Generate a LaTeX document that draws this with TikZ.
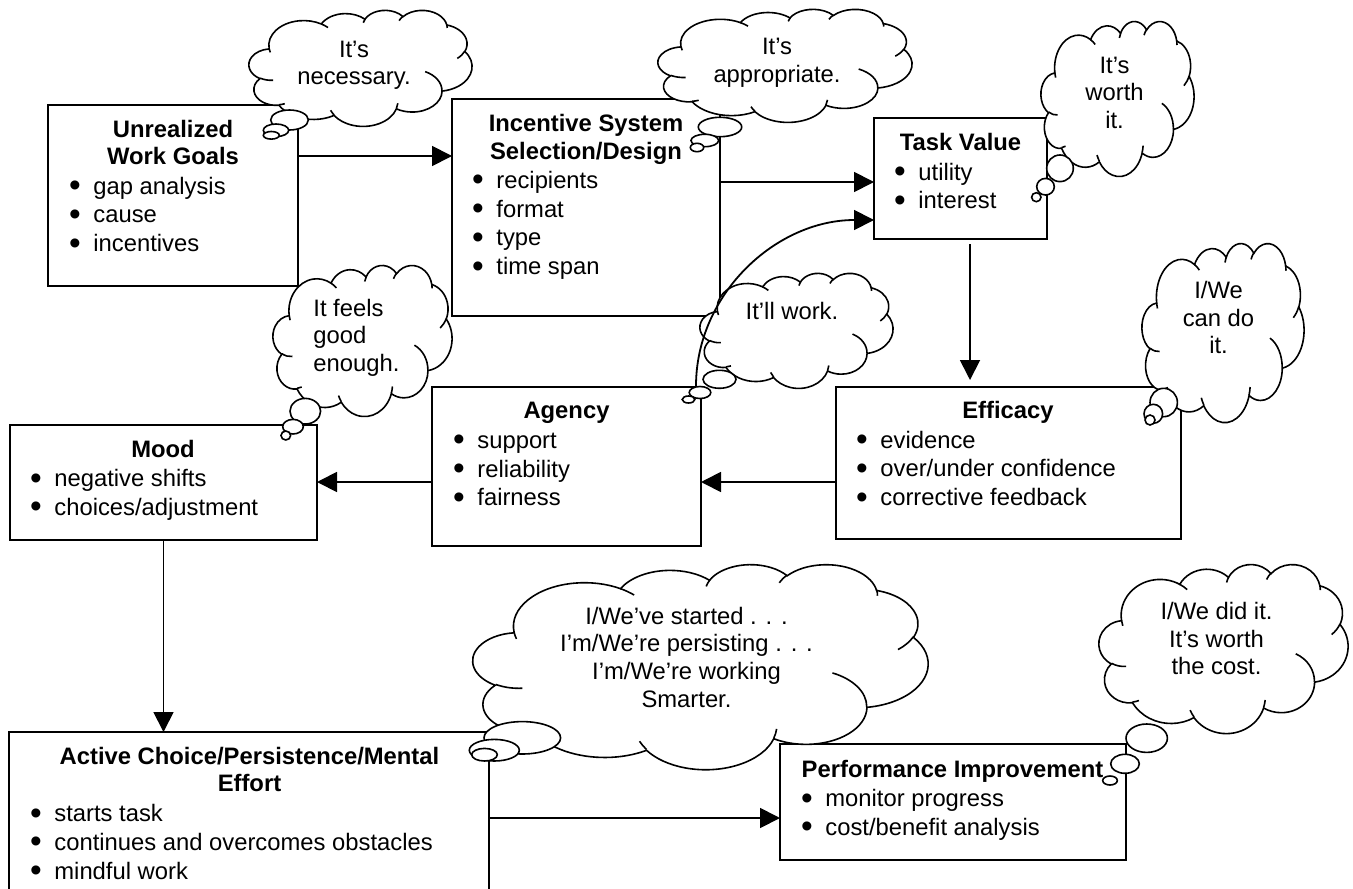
\documentclass[tikz,border=0pt]{standalone}
\usepackage{fontspec}
\setmainfont{Liberation Sans}
\usepackage{graphicx}
\usetikzlibrary{arrows.meta}

\newcommand\bul{\makebox[0pt][r]{\raisebox{-1.2pt}{\scalebox{1.4}{\textbullet}}\hspace{6.3pt}}}
\newcommand\tlines[2]{\begin{tabular}[t]{@{}#1@{}}#2\end{tabular}}
\newcommand\carc[4]{arc[x radius=#1,y radius=#2,start angle={cpa(#3,#1,#2)},delta angle={cpd(#3,#4,#1,#2)}]}
\newcommand\officecloud[4]{%
\begin{scope}[shift={(#1,#2)},xscale=#3/43.2,yscale=#4/43.2]
\path[cloudbody] (3.900,14.370)
 \carc{6.753}{9.190}{-190.4875}{123.7805}
 \carc{5.333}{7.267}{-144.1024}{89.9452}
 \carc{4.365}{5.945}{-145.8079}{99.7230}
 \carc{4.857}{6.595}{-130.9861}{117.2417}
 \carc{5.333}{7.273}{-78.7089}{109.0269}
 \carc{6.775}{9.220}{-46.2673}{130.2690}
 \carc{5.785}{7.867}{0.6250}{114.0333}
 \carc{6.752}{9.215}{22.4516}{115.1726}
 \carc{7.720}{10.543}{66.2426}{75.7110}
 \carc{4.360}{5.918}{-274.9421}{146.7356}
 \carc{4.345}{5.945}{-246.8285}{152.5189}
 -- cycle;
\path[cloudline] (4.693,26.177) \carc{4.345}{5.945}{86.7420}{26.4295}
 (6.928,34.899) \carc{4.360}{5.918}{73.6105}{11.4475}
 (16.478,39.090) \carc{6.752}{9.215}{137.6242}{14.0811}
 (28.827,34.751) \carc{6.752}{9.215}{6.4533}{15.9984}
 (34.129,22.954) \carc{5.785}{7.867}{-70.2924}{70.9174}
 (41.798,15.354) \carc{5.333}{7.273}{30.3180}{27.7515}
 (38.324,5.426) \carc{4.857}{6.595}{-13.7443}{14.8589}
 (29.078,3.952) \carc{4.857}{6.595}{-149.1815}{18.1954}
 (22.141,4.720) \carc{4.365}{5.945}{-163.4943}{17.6864}
 (14.000,5.192) \carc{6.753}{9.190}{-66.7070}{12.3194}
 (4.127,15.789) \carc{6.753}{9.190}{157.6544}{11.8582};
\end{scope}}
\newcommand\bub[4]{\draw[bubble] (#1,#2) ellipse[x radius=#3,y radius=#4];}

\tikzset{
  declare function={
    cpa(\a,\w,\h)=atan2(\w*sin(\a),\h*cos(\a));
    cpd(\a,\s,\w,\h)=(cpa(\a+\s,\w,\h)-cpa(\a,\w,\h))-360*round(((cpa(\a+\s,\w,\h)-cpa(\a,\w,\h))-\s)/360);
  },
  box/.style={draw, line width=0.9pt, inner sep=0pt, outer sep=0pt, fill=white},
  arr/.style={line width=0.9pt, -{Triangle[length=10pt,width=10pt]}},
  cloudbody/.style={draw, fill=white, line width=0.8pt},
  cloudline/.style={draw, line width=0.8pt},
  bubble/.style={draw, fill=white, line width=0.8pt},
  ttl/.style={anchor=base, inner sep=0pt, font=\fontsize{11.9pt}{13.5pt}\selectfont\bfseries},
  lst/.style={anchor=base west, inner sep=0pt, font=\fontsize{11.9pt}{14.4pt}\selectfont},
  ctx/.style={anchor=base, inner sep=0pt, font=\fontsize{11.9pt}{13.85pt}\selectfont},
}

\begin{document}
\begin{tikzpicture}[x=0.5pt,y=-0.5pt]
\useasboundingbox (0,0) rectangle (1353,888);
\clip (0,0) rectangle (1353,888);
\fill[white] (0,0) rectangle (1353,888);

% boxes
\node[box, minimum width=125pt, minimum height=90.5pt] (unr) at (173,195.5) {};
\node[box, minimum width=134pt, minimum height=108.5pt] (inc) at (586,207.5) {};
\node[box, minimum width=86.5pt, minimum height=60.5pt] (tv) at (960.5,178.5) {};
\node[box, minimum width=172.5pt, minimum height=76pt] (eff) at (1008.5,463) {};
\node[box, minimum width=134.5pt, minimum height=79.5pt] (ag) at (566.5,466.5) {};
\node[box, minimum width=153.5pt, minimum height=57.5pt] (mood) at (163.5,482.5) {};
\node[box, minimum width=240pt, minimum height=89pt] (act) at (249,821) {};
\node[box, minimum width=173pt, minimum height=58pt] (perf) at (953,802) {};

% straight connectors
\draw[arr] (unr.east |- 0,156) -- (inc.west |- 0,156);
\draw[arr] (inc.east |- 0,182) -- (tv.west |- 0,182);
\draw[arr, shorten <=2.5pt, shorten >=3.5pt] (tv.south -| 970,0) -- (eff.north -| 970,0);
\draw[arr] (eff.west |- 0,482) -- (ag.east |- 0,482);
\draw[arr] (ag.west |- 0,482) -- (mood.east |- 0,482);
\draw[arr] (mood.south) -- (mood.south |- act.north);
\draw[arr] (act.east |- 0,818) -- (perf.west |- 0,818);

% clouds
\officecloud{249}{10}{223}{116}
\bub{289.5}{120}{18.8}{10}\bub{276}{130.3}{12.7}{6.3}\bub{271.3}{135.3}{8}{3.8}

\officecloud{658}{9}{254}{113}
\bub{720}{127}{21.7}{9.7}\bub{704.8}{140.5}{13.8}{6.2}\bub{697}{147.5}{6.7}{4.2}

\officecloud{1041}{21}{153}{155}
\bub{1060}{168.3}{13.3}{13.3}\bub{1045.5}{186.7}{8.8}{8.3}\bub{1036.3}{197.2}{4.7}{4.5}

\officecloud{273}{265}{179}{151}
\bub{305.3}{411.2}{15.3}{12.8}\bub{293}{426.7}{10.3}{7.3}\bub{285.8}{435.5}{4.8}{4.5}

\officecloud{700}{273}{193}{115}
\bub{719.5}{379.3}{16.5}{9}\bub{700}{392.5}{10.8}{6}\bub{688.5}{399.5}{6.3}{3.5}

\officecloud{1142}{243}{162}{179}
\bub{1163.7}{402.5}{13.7}{14.2}\bub{1153.3}{413.8}{9.3}{9.5}\bub{1150}{420}{5}{5}

\officecloud{473}{564}{455}{205}
\bub{522.3}{737.8}{38.3}{16.2}\bub{494.3}{750.2}{25}{10.8}\bub{484.5}{754.7}{12.8}{6.3}

\officecloud{1099}{564}{249}{169}
\bub{1146.7}{738.2}{20.7}{14.2}\bub{1125}{763.8}{14.3}{9.5}\bub{1110}{780.5}{7.3}{4.5}

% curved connector Agency -> Task Value
\draw[arr] ([xshift=-2.5pt,yshift=0.5pt]ag.north east) .. controls (696,294) and (776,220) .. (tv.west |- 0,220);

% box texts
\node[ttl] (unrT) at (173,137) {\tlines{c}{Unrealized\\Work Goals}};
\node[lst] (unrL) at (93,194) {\tlines{l}{\bul gap analysis\\\bul cause\\\bul incentives}};
\node[ttl] (incT) at (586,132) {\tlines{c}{Incentive System\\Selection/Design}};
\node[lst] (incL) at (496,188.3) {\tlines{l}{\bul recipients\\\bul format\\\bul type\\\bul time span}};
\node[ttl] (tvT) at (960.5,150.7) {Task Value};
\node[lst] (tvL) at (918,180) {\tlines{l}{\bul utility\\\bul interest}};
\node[ttl] (effT) at (1008,418.3) {Efficacy};
\node[lst] (effL) at (880,448) {\tlines{l}{\bul evidence\\\bul over/under confidence\\\bul corrective feedback}};
\node[ttl] (agT) at (566.5,418.3) {Agency};
\node[lst] (agL) at (477,448.3) {\tlines{l}{\bul support\\\bul reliability\\\bul fairness}};
\node[ttl] (moodT) at (163,457.3) {Mood};
\node[lst] (moodL) at (54,486.7) {\tlines{l}{\bul negative shifts\\\bul choices/adjustment}};
\node[ttl] (actT) at (249.5,764) {\tlines{c}{Active Choice/Persistence/Mental\\Effort}};
\node[lst] (actL) at (54,821.7) {\tlines{l}{\bul starts task\\\bul continues and overcomes obstacles\\\bul mindful work}};
\node[ttl] (perfT) at (952.5,777.3) {Performance Improvement};
\node[lst] (perfL) at (825,806.7) {\tlines{l}{\bul monitor progress\\\bul cost/benefit analysis}};

% cloud texts
\node[ctx] (cA) at (354,57.3) {\tlines{c}{It’s\\necessary.}};
\node[ctx] (cB) at (777,55) {\tlines{c}{It’s\\appropriate.}};
\node[ctx] (cC) at (1114.5,73.3) {\tlines{c}{It’s\\worth\\it.}};
\node[ctx, anchor=base west] (cD) at (313,316) {\tlines{l}{It feels\\good\\enough.}};
\node[ctx] (cE) at (792,319.3) {It’ll work.};
\node[ctx] (cF) at (1218.5,298.3) {\tlines{c}{I/We\\can do\\it.}};
\node[ctx] (cG) at (686.5,624) {\tlines{c}{I/We’ve started . . .\\I’m/We’re persisting . . .\\I’m/We’re working\\Smarter.}};
\node[ctx] (cH) at (1216.5,619.3) {\tlines{c}{I/We did it.\\It’s worth\\the cost.}};
\end{tikzpicture}
\end{document}
